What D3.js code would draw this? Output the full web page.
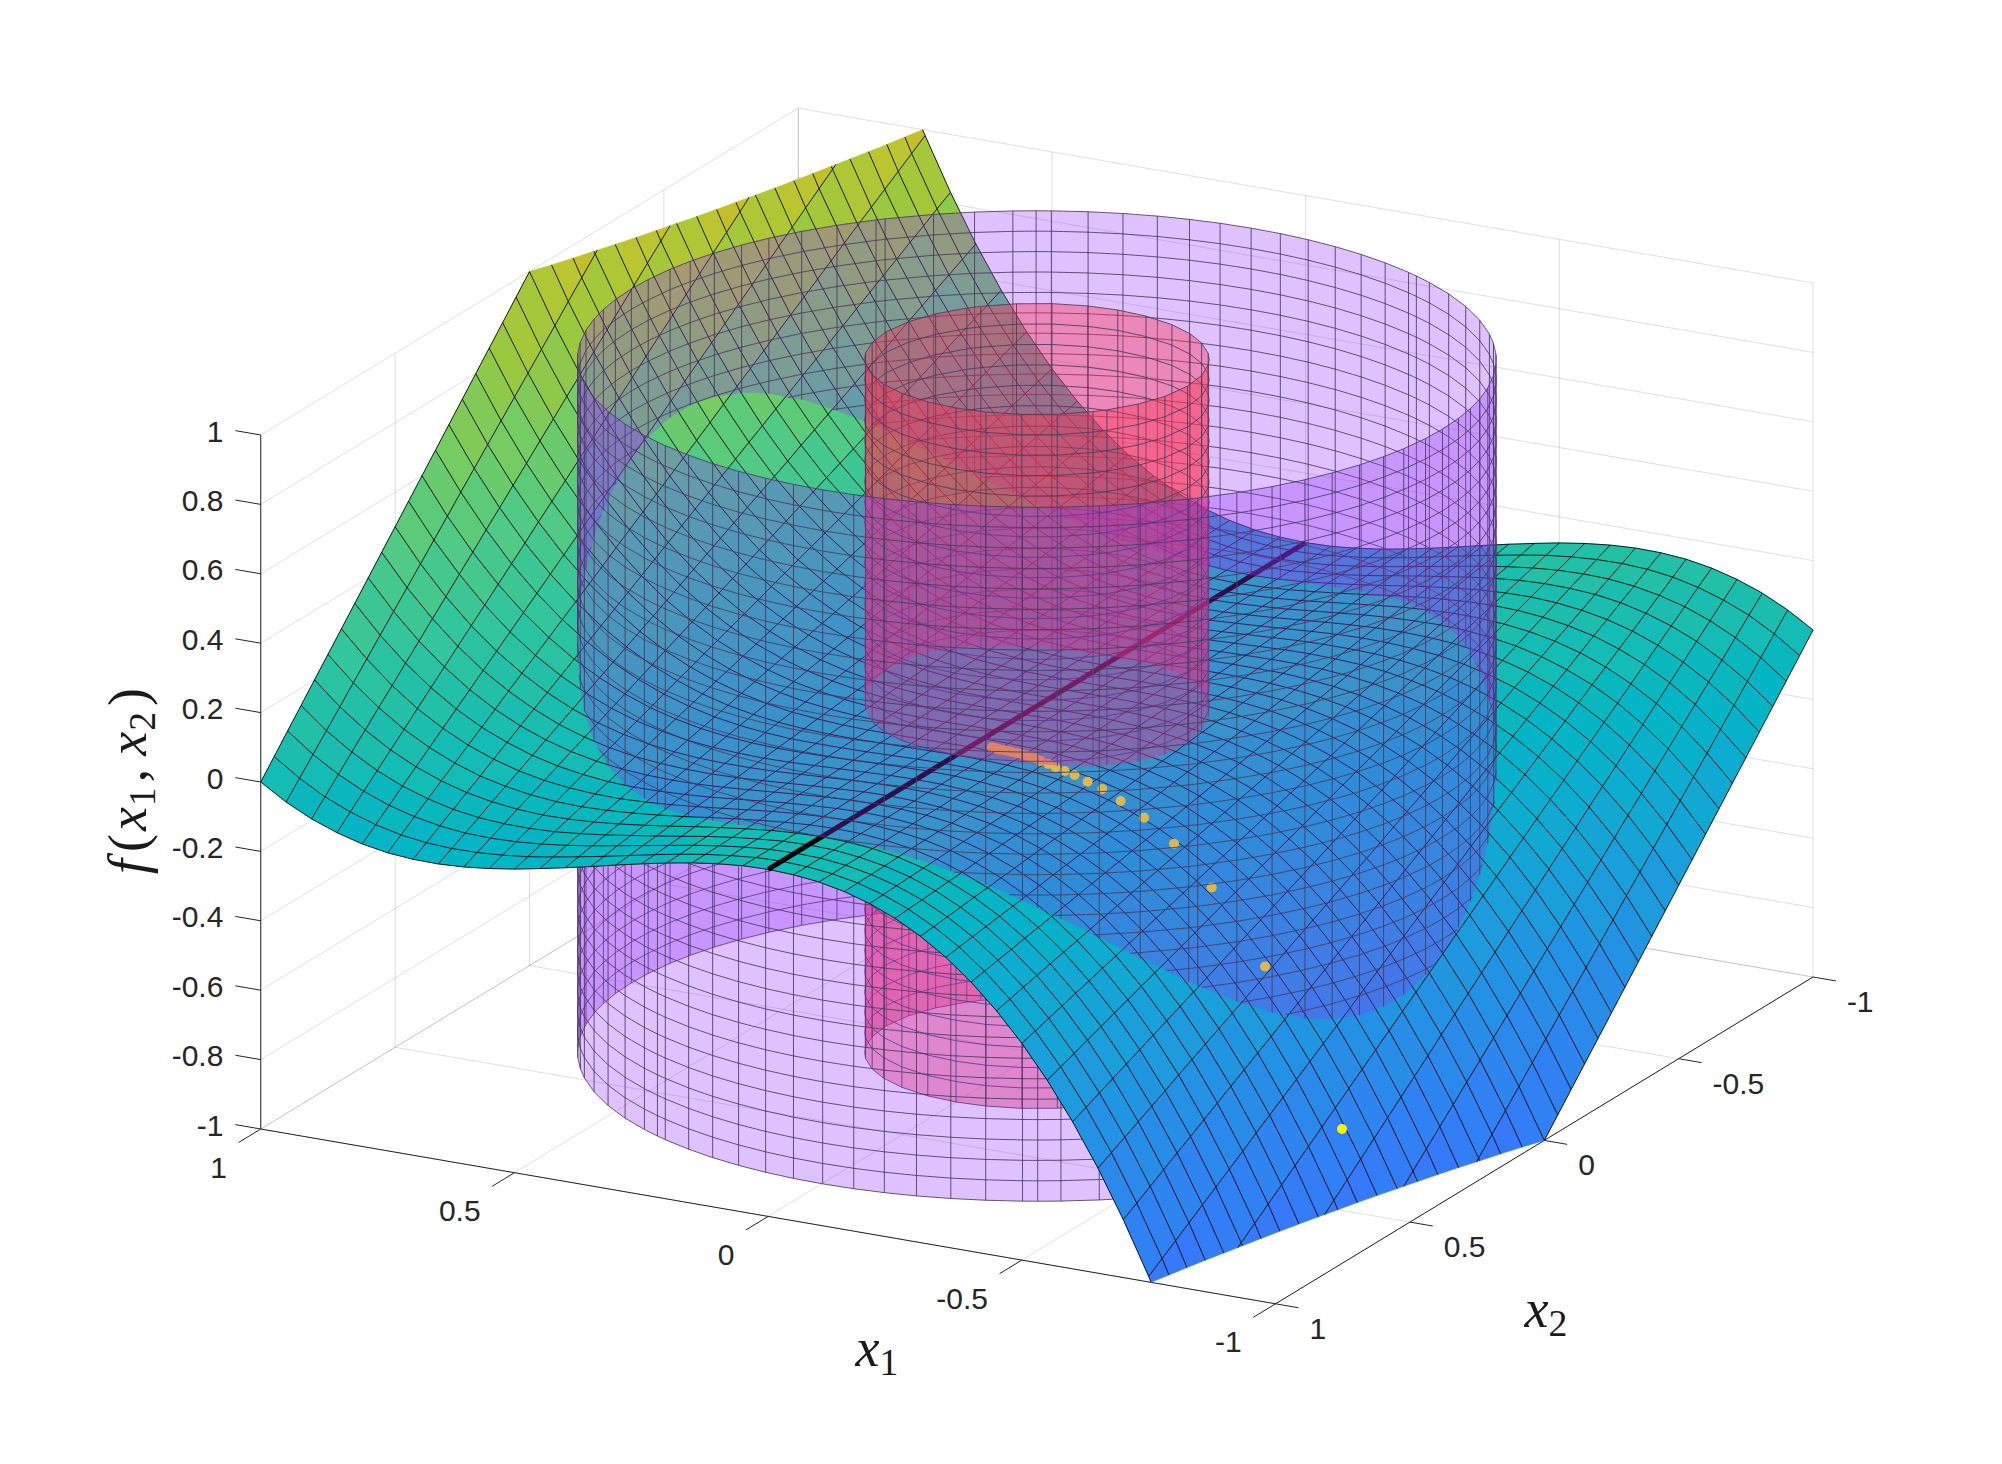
<!DOCTYPE html>
<meta charset="utf-8">
<style>
body { margin: 0; background: #fff; }
.tick-label { font: 30px "Liberation Sans", sans-serif; fill: #262626; }
.math-label { font-family: "Liberation Serif", serif; font-style: italic; fill: #1a1a1a; }
.math-label .up { font-style: normal; }
</style>
<svg id="chart" width="2002" height="1464"></svg>
<script src="https://cdn.jsdelivr.net/npm/d3@7"></script>
<script>

// ticks
var x1Ticks = [-1, -0.5, 0, 0.5, 1];
var x2Ticks = [-1, -0.5, 0, 0.5, 1];
var zTicks = [-1, -0.8, -0.6, -0.4, -0.2, 0, 0.2, 0.4, 0.6, 0.8, 1];

// surface heights in thousandths, read on the 0.05 mesh
// one row per x1 = 0, 0.05 ... 1, one column per x2 = -1, -0.95 ... 1
var surfaceRows = [
[0,0,0,0,0,0,0,0,0,0,0,0,0,0,0,0,0,0,0,0,0,0,0,0,0,0,0,0,0,0,0,0,0,0,0,0,0,0,0,0,0],
[3,3,2,2,2,2,2,2,2,2,1,1,1,1,1,1,1,1,0,0,0,0,0,0,0,-1,-1,-1,-1,-1,-1,-1,-1,-2,-2,-2,-2,-2,-2,-2,-2],
[11,11,10,10,9,9,8,8,7,7,6,6,5,5,4,4,3,3,2,2,1,1,0,-1,-1,-2,-2,-3,-3,-4,-4,-5,-5,-6,-6,-7,-7,-8,-8,-9,-9],
[26,25,24,23,21,20,19,18,17,16,15,14,12,11,10,9,8,7,6,5,3,2,1,0,-1,-2,-3,-5,-6,-7,-8,-9,-10,-11,-12,-14,-15,-16,-17,-18,-19],
[48,46,44,42,40,38,36,34,32,30,28,26,24,22,20,18,16,14,12,10,8,6,4,2,0,-2,-4,-6,-8,-10,-12,-14,-16,-18,-20,-22,-24,-26,-28,-30,-32],
[78,75,72,69,66,63,59,56,53,50,47,44,41,38,34,31,28,25,22,19,16,13,9,6,3,0,-3,-6,-9,-13,-16,-19,-22,-25,-28,-31,-34,-38,-41,-44,-47],
[117,113,108,104,99,95,90,86,81,77,72,68,63,59,54,50,45,41,36,32,27,23,18,14,9,5,0,-5,-9,-14,-18,-23,-27,-32,-36,-41,-45,-50,-54,-59,-63],
[165,159,153,147,141,135,129,123,116,110,104,98,92,86,80,74,67,61,55,49,43,37,31,25,18,12,6,0,-6,-12,-18,-25,-31,-37,-43,-49,-55,-61,-67,-74,-80],
[224,216,208,200,192,184,176,168,160,152,144,136,128,120,112,104,96,88,80,72,64,56,48,40,32,24,16,8,0,-8,-16,-24,-32,-40,-48,-56,-64,-72,-80,-88,-96],
[294,284,273,263,253,243,233,223,213,203,192,182,172,162,152,142,132,122,111,101,91,81,71,61,51,41,30,20,10,0,-10,-20,-30,-41,-51,-61,-71,-81,-91,-101,-111],
[375,363,350,338,325,313,300,288,275,263,250,238,225,213,200,188,175,163,150,138,125,113,100,88,75,63,50,38,25,13,0,-13,-25,-38,-50,-63,-75,-88,-100,-113,-125],
[469,454,439,424,408,393,378,363,348,333,318,303,287,272,257,242,227,212,197,182,166,151,136,121,106,91,76,61,45,30,15,0,-15,-30,-45,-61,-76,-91,-106,-121,-136],
[576,558,540,522,504,486,468,450,432,414,396,378,360,342,324,306,288,270,252,234,216,198,180,162,144,126,108,90,72,54,36,18,0,-18,-36,-54,-72,-90,-108,-126,-144],
[697,676,655,634,613,592,570,549,528,507,486,465,444,423,401,380,359,338,317,296,275,254,232,211,190,169,148,127,106,85,63,42,21,0,-21,-42,-63,-85,-106,-127,-148],
[833,809,784,760,735,711,686,662,637,613,588,564,539,515,490,466,441,417,392,368,343,319,294,270,245,221,196,172,147,123,98,74,49,25,0,-25,-49,-74,-98,-123,-147],
[984,956,928,900,872,844,816,788,759,731,703,675,647,619,591,563,534,506,478,450,422,394,366,338,309,281,253,225,197,169,141,113,84,56,28,0,-28,-56,-84,-113,-141],
[1152,1120,1088,1056,1024,992,960,928,896,864,832,800,768,736,704,672,640,608,576,544,512,480,448,416,384,352,320,288,256,224,192,160,128,96,64,32,0,-32,-64,-96,-128],
[1337,1301,1264,1228,1192,1156,1120,1084,1048,1012,975,939,903,867,831,795,759,723,686,650,614,578,542,506,470,434,397,361,325,289,253,217,181,145,108,72,36,0,-36,-72,-108],
[1539,1499,1458,1418,1377,1337,1296,1256,1215,1175,1134,1094,1053,1013,972,932,891,851,810,770,729,689,648,608,567,527,486,446,405,365,324,284,243,203,162,122,81,41,0,-41,-81],
[1760,1715,1670,1625,1579,1534,1489,1444,1399,1354,1309,1264,1218,1173,1128,1083,1038,993,948,903,857,812,767,722,677,632,587,542,496,451,406,361,316,271,226,181,135,90,45,0,-45],
[2000,1950,1900,1850,1800,1750,1700,1650,1600,1550,1500,1450,1400,1350,1300,1250,1200,1150,1100,1050,1000,950,900,850,800,750,700,650,600,550,500,450,400,350,300,250,200,150,100,50,0]
];

// colours read along the surface, by height
var colourHeights = [-1, -0.8, -0.6, -0.4, -0.2, -0.1, 0, 0.2, 0.4, 0.6, 0.8, 1, 1.1, 1.25];
var colourValues = ["#3679fa", "#2d86ee", "#2293e2", "#17a2d8", "#09b0cb", "#03b6c4", "#13bcb4",
  "#2cc3a0", "#48c98a", "#70cc68", "#98c840", "#bac530", "#c9bb24", "#cfb81e"];

// cylinders, wall lines given by their angle seen from the camera (degrees)
var outerRadius = 0.8;
var innerRadius = 0.3;
var outerWallAngles = [178, 173.7, 170.1, 164.6, 159, 153.7, 148.7, 145.7, 144, 139.3, 134.9, 130.5, 126.2, 122,
  117.8, 113.5, 109.4, 105.2, 100.8, 96.4, 91.8, 89.9, 87, 82.2, 77, 70.7, 69.5, 64.2, 59.2, 54.3, 50, 45.4, 41,
  37, 32.2, 28, 23.4, 19.3, 15.4, 11, 6, 2];
var innerWallAngles = [174, 163, 152.8, 141.6, 129.3, 118, 107.2, 95, 83.2, 71, 66, 54, 42, 29, 17, 6];
var wallLevelCount = 34;

// black line on the surface
var lineX1 = [0, 0];
var lineX2 = [1, -1];
var lineZ = [0, 0];

// trajectory points
var pointX1 = [-0.82, -0.643, -0.522, -0.435, -0.368, -0.316, -0.274, -0.243, -0.213, -0.192, -0.172, -0.155,
  -0.138, -0.123, -0.115, -0.106, -0.096, -0.087, -0.075, -0.066, -0.058, -0.05, -0.044, -0.035];
var pointX2 = [0.413, 0.365, 0.335, 0.311, 0.296, 0.285, 0.274, 0.27, 0.262, 0.259, 0.255, 0.25,
  0.247, 0.24, 0.239, 0.238, 0.237, 0.237, 0.236, 0.236, 0.236, 0.237, 0.235, 0.234];
var pointZ = [-0.818, -0.417, -0.234, -0.141, -0.09, -0.06, -0.041, -0.03, -0.022, -0.017, -0.013, -0.01,
  -0.007, -0.006, -0.005, -0.004, -0.003, -0.003, -0.002, -0.001, -0.001, -0.001, 0, 0];

/*****************************************************************************/

// the lower half of the picture is the upper half turned through 180 degrees
var surfaceZ = surfaceRows.slice(1).reverse()
    .map(function(row) { return row.slice().reverse().map(function(v) { return -v / 1000; }); })
    .concat(surfaceRows.map(function(row) { return row.map(function(v) { return v / 1000; }); }));
var meshX1 = d3.range(41).map(function(i) { return -1 + i * 0.05; });
var meshX2 = d3.range(41).map(function(j) { return -1 + j * 0.05; });

// fixed view, written as one scale for each data direction on screen
var originX = 1036.9, originY = 706;
var x1ToX = d3.scaleLinear().domain([-1, 1]).range([507.4, -507.4]);
var x2ToX = d3.scaleLinear().domain([-1, 1]).range([268.75, -268.75]);
var x1ToY = d3.scaleLinear().domain([-1, 1]).range([87.4, -87.4]);
var x2ToY = d3.scaleLinear().domain([-1, 1]).range([-163.4, 163.4]);
var zToY = d3.scaleLinear().domain([-1, 1]).range([347, -347]);

function project(x1, x2, z) {
  return [originX + x1ToX(x1) + x2ToX(x2), originY + x1ToY(x1) + x2ToY(x2) + zToY(z)];
}

var colour = d3.scaleLinear().domain(colourHeights).range(colourValues).clamp(true);
var svg = d3.select("#chart");
var polygon = d3.line();

// --- axes and grid
var grid = d3.path();
function gridLine(a, b) {
  var p = project(a[0], a[1], a[2]), q = project(b[0], b[1], b[2]);
  grid.moveTo(p[0], p[1]);
  grid.lineTo(q[0], q[1]);
}
x1Ticks.forEach(function(t) {
  gridLine([t, 1, -1], [t, -1, -1]);
  gridLine([t, -1, -1], [t, -1, 1]);
});
x2Ticks.forEach(function(t) {
  gridLine([1, t, -1], [-1, t, -1]);
  gridLine([1, t, -1], [1, t, 1]);
});
zTicks.forEach(function(t) {
  gridLine([1, 1, t], [1, -1, t]);
  gridLine([1, -1, t], [-1, -1, t]);
});
svg.append("path")
    .attr("d", grid.toString())
    .attr("fill", "none")
    .attr("stroke", "#262626")
    .attr("stroke-opacity", 0.15)
    .attr("stroke-width", 1);

var rulers = d3.path();
function rulerLine(a, b) {
  var p = project(a[0], a[1], a[2]), q = project(b[0], b[1], b[2]);
  rulers.moveTo(p[0], p[1]);
  rulers.lineTo(q[0], q[1]);
  return q;
}
rulerLine([1, 1, -1], [1, 1, 1]);
rulerLine([1, 1, -1], [-1, 1, -1]);
rulerLine([-1, 1, -1], [-1, -1, -1]);

function tickLabel(text, x, y, anchor) {
  svg.append("text")
      .attr("class", "tick-label")
      .attr("x", x)
      .attr("y", y)
      .attr("text-anchor", anchor)
      .text(text);
}
zTicks.forEach(function(t) {
  var end = rulerLine([1, 1, t], [1.05, 1, t]);
  tickLabel(t, end[0] - 12, end[1] + 11, "end");
});
x1Ticks.forEach(function(t) {
  var end = rulerLine([t, 1, -1], [t, 1.083, -1]);
  tickLabel(t, end[0] - 11.5, end[1] + 35, "end");
});
x2Ticks.forEach(function(t) {
  var end = rulerLine([-1, t, -1], [-1.045, t, -1]);
  tickLabel(t, end[0] + 11, end[1] + 31, "start");
});
svg.append("path")
    .attr("d", rulers.toString())
    .attr("fill", "none")
    .attr("stroke", "#262626")
    .attr("stroke-width", 1);

// label made of italic, upright and subscript pieces
function mathLabel(parts, x, y, size, angle) {
  var text = svg.append("text")
      .attr("class", "math-label")
      .attr("transform", "translate(" + x + "," + y + ") rotate(" + angle + ")")
      .attr("text-anchor", "middle")
      .attr("font-size", size);
  var shift = 0;
  parts.forEach(function(part) {
    var span = text.append("tspan").text(part[0]);
    if (part[1] == "sub") {
      span.attr("class", "up").attr("font-size", size * 0.7).attr("dy", size * 0.16 - shift);
      shift = size * 0.16;
    } else {
      if (part[1] == "up") span.attr("class", "up");
      span.attr("dy", -shift);
      shift = 0;
    }
    if (part[2]) span.attr("dx", part[2]);
  });
}
mathLabel([["x"], ["1", "sub"]], 877, 1366, 54, 0);
mathLabel([["x"], ["2", "sub"]], 1546, 1327, 54, 0);
mathLabel([["f", "", 0], ["(", "up", 7], ["x", "", 3], ["1", "sub", 1], [",", "up", 5], ["x", "", 13], ["2", "sub", 1], [")", "up", 6]],
  146, 781, 54, -90);

// --- surface
function surfaceHeight(x1, x2) {
  var u = Math.min(39.999, (x1 + 1) / 0.05), v = Math.min(39.999, (x2 + 1) / 0.05);
  var i = Math.floor(u), j = Math.floor(v);
  u -= i;
  v -= j;
  return surfaceZ[i][j] * (1 - u) * (1 - v) + surfaceZ[i + 1][j] * u * (1 - v)
       + surfaceZ[i][j + 1] * (1 - u) * v + surfaceZ[i + 1][j + 1] * u * v;
}

function clampHeight(z) { return Math.max(-1, Math.min(1, z)); }

// cut a polygon at one z limit, keeping the side where sign * (z - limit) <= 0
function clipPolygon(points, limit, sign) {
  var out = [];
  points.forEach(function(p, k) {
    var q = points[(k + 1) % points.length];
    var dp = sign * (p[2] - limit), dq = sign * (q[2] - limit);
    if (dp <= 0) out.push(p);
    if (dp * dq < 0) {
      var t = dp / (dp - dq);
      out.push([p[0] + (q[0] - p[0]) * t, p[1] + (q[1] - p[1]) * t, limit]);
    }
  });
  return out;
}

var cells = [];
d3.range(40).forEach(function(i) {
  d3.range(40).forEach(function(j) {
    var corners = [
      [meshX1[i], meshX2[j], surfaceZ[i][j]],
      [meshX1[i + 1], meshX2[j], surfaceZ[i + 1][j]],
      [meshX1[i + 1], meshX2[j + 1], surfaceZ[i + 1][j + 1]],
      [meshX1[i], meshX2[j + 1], surfaceZ[i][j + 1]]
    ];
    var kept = clipPolygon(clipPolygon(corners, 1, 1), -1, -1);
    if (kept.length > 2) {
      var level = d3.mean(corners, function(c) { return c[2]; });
      cells.push({
        points: kept.map(function(c) { return project(c[0], c[1], c[2]); }),
        fill: colour(Math.round(level * 16) / 16)
      });
    }
  });
});

// mesh lines, cut at the same limits but without any line along the cut
var mesh = d3.path();
function meshSegment(a, b) {
  var lo = 0, hi = 1;
  [[1, 1], [-1, -1]].forEach(function(cut) {
    var da = cut[1] * (a[2] - cut[0]), db = cut[1] * (b[2] - cut[0]);
    if (da > 0 && db > 0) { lo = 2; return; }
    if (da > 0) lo = Math.max(lo, da / (da - db));
    if (db > 0) hi = Math.min(hi, da / (da - db));
  });
  if (lo >= hi) return;
  var at = function(t) {
    return project(a[0] + (b[0] - a[0]) * t, a[1] + (b[1] - a[1]) * t, a[2] + (b[2] - a[2]) * t);
  };
  var p = at(lo), q = at(hi);
  mesh.moveTo(p[0], p[1]);
  mesh.lineTo(q[0], q[1]);
}
d3.range(41).forEach(function(i) {
  d3.range(40).forEach(function(j) {
    meshSegment([meshX1[i], meshX2[j], surfaceZ[i][j]], [meshX1[i], meshX2[j + 1], surfaceZ[i][j + 1]]);
    meshSegment([meshX1[j], meshX2[i], surfaceZ[j][i]], [meshX1[j + 1], meshX2[i], surfaceZ[j + 1][i]]);
  });
});

// --- cylinders, cut along the surface so each part can be painted in order
var viewAngle = Math.atan2(x2ToX(1), x1ToX(1)) * 180 / Math.PI;
var wallLevels = d3.range(wallLevelCount + 1).map(function(k) { return -1 + k * 2 / wallLevelCount; });

function wallSide(radius, angles) {
  var samples = [];
  var sub = 6;
  var node = function(a) {
    var t = (a + viewAngle) * Math.PI / 180;
    return [radius * Math.cos(t), radius * Math.sin(t)];
  };
  d3.range(angles.length - 1).forEach(function(k) {
    var p = node(angles[k]), q = node(angles[k + 1]);
    d3.range(k == angles.length - 2 ? sub + 1 : sub).forEach(function(s) {
      var x1 = p[0] + (q[0] - p[0]) * s / sub, x2 = p[1] + (q[1] - p[1]) * s / sub;
      samples.push({x1: x1, x2: x2, h: clampHeight(surfaceHeight(x1, x2)), node: s == 0 && k > 0});
    });
  });

  var parts = {above: {fill: null, lines: d3.path()}, below: {fill: null, lines: d3.path()}};
  var seg = function(part, a, za, b, zb) {
    var p = project(a.x1, a.x2, za), q = project(b.x1, b.x2, zb);
    part.lines.moveTo(p[0], p[1]);
    part.lines.lineTo(q[0], q[1]);
  };
  var back = samples.slice().reverse();
  var onSurface = function(s) { return project(s.x1, s.x2, s.h); };
  parts.above.fill = polygon(samples.map(function(s) { return project(s.x1, s.x2, 1); }).concat(back.map(onSurface))) + "Z";
  parts.below.fill = polygon(samples.map(function(s) { return project(s.x1, s.x2, -1); }).concat(back.map(onSurface))) + "Z";

  samples.forEach(function(s) {
    if (!s.node) return;
    if (s.h < 1) seg(parts.above, s, s.h, s, 1);
    if (s.h > -1) seg(parts.below, s, -1, s, s.h);
  });
  wallLevels.forEach(function(z) {
    d3.range(samples.length - 1).forEach(function(k) {
      var a = samples[k], b = samples[k + 1];
      var da = z - a.h, db = z - b.h;
      if (da >= 0 && db >= 0) seg(parts.above, a, z, b, z);
      else if (da < 0 && db < 0) seg(parts.below, a, z, b, z);
      else {
        var t = da / (da - db);
        var m = {x1: a.x1 + (b.x1 - a.x1) * t, x2: a.x2 + (b.x2 - a.x2) * t};
        seg(da >= 0 ? parts.above : parts.below, a, z, m, z);
        seg(db >= 0 ? parts.above : parts.below, m, z, b, z);
      }
    });
  });
  return parts;
}

function backAngles(list) {
  return [0].concat(list.map(function(a) { return 180 - a; }), [180]);
}
function frontAngles(list) {
  return [-180].concat(list.map(function(a) { return -a; }), [0]);
}

var outerFill = "#9433ff", innerFill = "#ff3350";
var walls = [
  {side: wallSide(outerRadius, backAngles(outerWallAngles)), fill: outerFill, alpha: 0.3},
  {side: wallSide(innerRadius, backAngles(innerWallAngles)), fill: innerFill, alpha: 0.4},
  {side: wallSide(innerRadius, frontAngles(innerWallAngles)), fill: innerFill, alpha: 0.4},
  {side: wallSide(outerRadius, frontAngles(outerWallAngles)), fill: outerFill, alpha: 0.3}
];

function paintWalls(which) {
  walls.forEach(function(w) {
    svg.append("path")
        .attr("d", w.side[which].fill)
        .attr("fill", w.fill)
        .attr("fill-opacity", w.alpha);
    svg.append("path")
        .attr("d", w.side[which].lines.toString())
        .attr("fill", "none")
        .attr("stroke", "#47395c")
        .attr("stroke-opacity", 0.85)
        .attr("stroke-width", 1);
  });
}

// --- paint: wall below the surface, surface, line and points, wall above it
paintWalls("below");

svg.append("g")
  .selectAll("path")
  .data(cells)
  .enter().append("path")
    .attr("d", function(d) { return polygon(d.points) + "Z"; })
    .attr("fill", function(d) { return d.fill; })
    .attr("stroke", function(d) { return d.fill; })
    .attr("stroke-width", 0.6);

svg.append("path")
    .attr("d", mesh.toString())
    .attr("fill", "none")
    .attr("stroke", "#000")
    .attr("stroke-width", 0.85);

svg.append("path")
    .datum(lineX1.map(function(x, k) { return project(x, lineX2[k], lineZ[k]); }))
    .attr("d", polygon)
    .attr("fill", "none")
    .attr("stroke", "#000")
    .attr("stroke-width", 5);

svg.append("g")
  .selectAll("circle")
  .data(pointX1.map(function(x, k) { return project(x, pointX2[k], pointZ[k]); }))
  .enter().append("circle")
    .attr("cx", function(d) { return d[0]; })
    .attr("cy", function(d) { return d[1]; })
    .attr("r", 5)
    .attr("fill", "#fff200");

paintWalls("above");

</script>
